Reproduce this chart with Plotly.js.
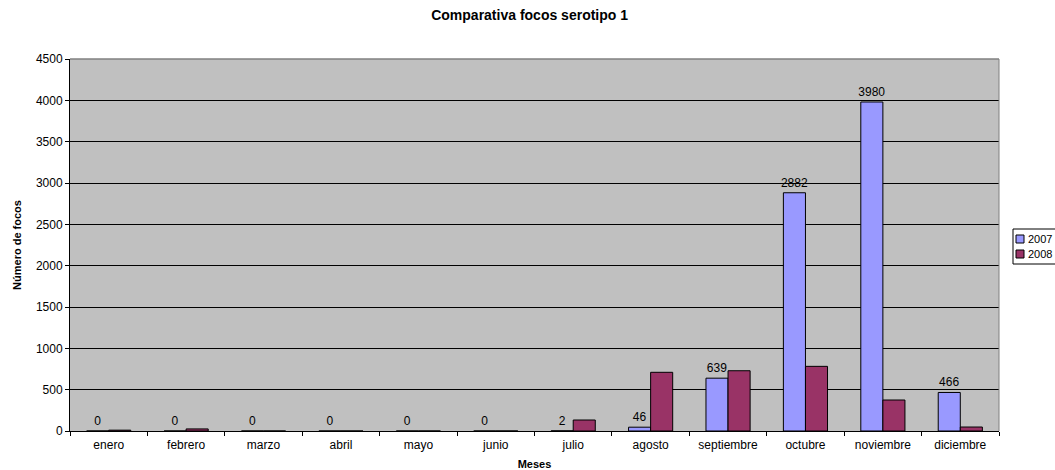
<!DOCTYPE html>
<html>
<head>
<meta charset="utf-8">
<script src="https://cdn.plot.ly/plotly-3.0.1.min.js"></script>
<style>html,body{margin:0;padding:0;background:#fff;}#chart{width:1055px;height:470px;}</style>
</head>
<body>
<div id="chart"></div>
<script>
const months = ['enero','febrero','marzo','abril','mayo','junio','julio','agosto','septiembre','octubre','noviembre','diciembre'];
const values2007 = [0, 0, 0, 0, 0, 0, 2, 46, 639, 2882, 3980, 466];
const values2008 = [10, 25, 0, 0, 0, 0, 133, 710, 729, 782, 375, 48];
const yTicks = [0, 500, 1000, 1500, 2000, 2500, 3000, 3500, 4000, 4500];
const seriesNames = ['2007', '2008'];
const seriesColors = ['#9999FF', '#993366'];

const FONT = 'Liberation Sans, Arial, sans-serif';
const W = 1055, H = 470;
const M = {l: 70, r: 56, t: 59, b: 39};
const PW = W - M.l - M.r, PH = H - M.t - M.b;
const px = v => (v - M.l) / PW;
const py = v => (H - M.b - v) / PH;

const traces = [
  {
    type: 'bar', name: seriesNames[0], x: months, y: values2007,
    marker: {color: seriesColors[0], line: {color: '#000', width: 1}},
    text: values2007.map(String), textposition: 'outside', cliponaxis: false,
    constraintext: 'none',
    textfont: {family: FONT, size: 12, color: '#000'}
  },
  {
    type: 'bar', name: seriesNames[1], x: months, y: values2008,
    marker: {color: seriesColors[1], line: {color: '#000', width: 1}}
  }
];

// legend box (drawn manually so it can sit at the chart's right edge like the original)
const shapes = [
  {type: 'line', xref: 'paper', yref: 'paper', x0: 1, x1: 1, y0: 0, y1: 1, line: {color: '#808080', width: 1}},
  {type: 'line', xref: 'paper', yref: 'paper', x0: 0, x1: 1, y0: 1, y1: 1, line: {color: '#808080', width: 1.5}},
  {type: 'rect', xref: 'paper', yref: 'paper', x0: px(1013), x1: px(1062), y0: py(264), y1: py(229), fillcolor: '#fff', line: {color: '#000', width: 1}}
];
const annotations = [];
seriesNames.forEach((name, i) => {
  const cy = 239 + i * 15;
  shapes.push({type: 'rect', xref: 'paper', yref: 'paper', x0: px(1016), x1: px(1024), y0: py(cy + 4), y1: py(cy - 4), fillcolor: seriesColors[i], line: {color: '#000', width: 1}});
  annotations.push({xref: 'paper', yref: 'paper', x: px(1026), y: py(cy), xanchor: 'left', yanchor: 'middle', text: name, showarrow: false, font: {family: FONT, size: 11, color: '#000'}});
});

const layout = {
  width: W, height: H,
  margin: {l: M.l, r: M.r, t: M.t, b: M.b, autoexpand: false},
  paper_bgcolor: '#fff', plot_bgcolor: '#C0C0C0',
  font: {family: FONT, size: 12, color: '#000'},
  title: {text: '<b>Comparativa focos serotipo 1</b>', font: {family: FONT, size: 14, color: '#000'}, x: 0.502, xanchor: 'center', y: 0.968, yanchor: 'middle'},
  barmode: 'group', bargap: 0.43, bargroupgap: 0,
  showlegend: false,
  xaxis: {
    type: 'category', tickson: 'boundaries', ticks: 'outside', ticklen: 4, tickcolor: '#000',
    ticklabelstandoff: 3,
    showline: true, linecolor: '#000', linewidth: 1, mirror: false, showgrid: false,
    tickfont: {family: FONT, size: 12, color: '#000'},
    title: {text: '<b>Meses</b>', font: {family: FONT, size: 11, color: '#000'}, standoff: 9}
  },
  yaxis: {
    range: [0, 4500], tickvals: yTicks, ticktext: yTicks.map(String),
    ticks: 'outside', ticklen: 4, tickcolor: '#000',
    showline: true, linecolor: '#000', linewidth: 1,
    showgrid: true, gridcolor: '#000', gridwidth: 1, zeroline: false,
    tickfont: {family: FONT, size: 12, color: '#000'},
    title: {text: '<b>Número de focos</b>', font: {family: FONT, size: 11, color: '#000'}, standoff: 12}
  },
  shapes: shapes,
  annotations: annotations
};

Plotly.newPlot('chart', traces, layout, {displayModeBar: false, staticPlot: true});
</script>
</body>
</html>
